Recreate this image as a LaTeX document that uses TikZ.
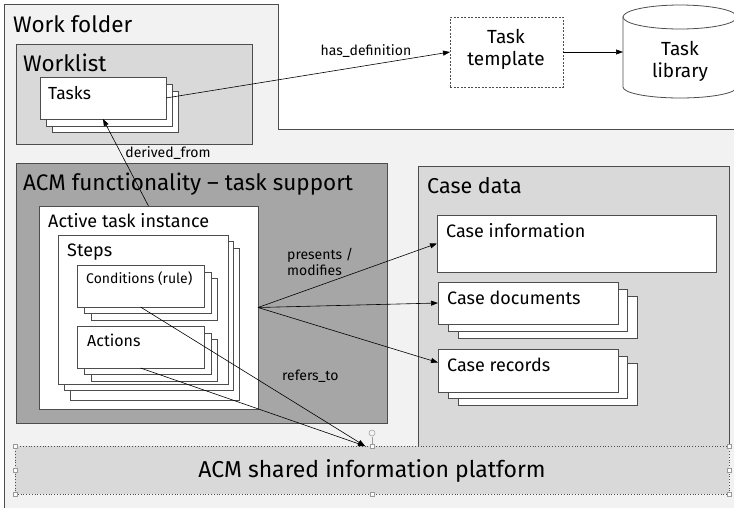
\documentclass[tikz,border=0pt]{standalone}
\usepackage{fontspec}
\setmainfont{Fira Sans}
\usetikzlibrary{arrows.meta}
\definecolor{wf}{HTML}{F2F2F2}
\definecolor{lg}{HTML}{D9D9D9}
\definecolor{dg}{HTML}{A6A6A6}
\definecolor{bd}{HTML}{4D4D4D}
\definecolor{hd}{HTML}{9A9A9A}
\newcommand\fsz[2]{\fontsize{#1}{#2}\selectfont}
\newcommand\mybox[6]{\node[#2, minimum width={(#5)-(#3)}, minimum height={(#6)-(#4)}] (#1) at (#3,#4) {};}
\tikzset{
  box/.style={draw=bd, line width=0.8pt, anchor=north west, inner sep=0pt, outer sep=0pt},
  ttl/.style={anchor=base west, inner sep=0pt, text=black},
  lbl/.style={inner sep=0pt, text=black, font=\fsz{14}{16}},
  conn/.style={draw=black, line width=0.6pt},
  arr/.style={conn, -{Triangle[length=7pt,width=5pt]}},
  handle/.style={draw=hd, fill=white, line width=0.5pt, minimum size=4pt, inner sep=0pt}
}
\begin{document}
\begin{tikzpicture}[x=1pt,y=-1pt]
\clip (0,0) rectangle (734,507);
\fill[white] (0,0) rectangle (734,507);
% Work folder
\draw[bd, fill=wf, line width=0.8pt] (4,4) -- (278,4) -- (278,129) -- (745,129) -- (745,515) -- (4,515) -- cycle;
\node[ttl, font=\fsz{22.5}{26}] (wft) at (13,32) {Work folder};
% Worklist
\mybox{wl}{box, fill=lg}{16}{44}{252}{144}
\node[ttl, font=\fsz{22.5}{26}] (wlt) at (23,71) {Worklist};
\mybox{tasks2}{box, fill=white}{52}{91}{178}{132}
\mybox{tasks1}{box, fill=white}{46}{84}{172}{126}
\mybox{tasks}{box, fill=white}{40}{77}{166}{119}
\node[ttl, font=\fsz{17.5}{20}] (taskst) at (48,99) {Tasks};
% Task template
\mybox{tmpl}{box, fill=white, dash pattern=on 2pt off 1.5pt}{450}{17}{563}{87}
\node[align=center, font=\fsz{19}{22}, inner sep=0pt] (tmplt) at (506,49) {Task\\template};
% Task library cylinder
\draw[bd, fill=white, line width=0.8pt] (623,17) -- (623,87) arc[start angle=180, end angle=0, x radius=57, y radius=11] -- (737,17) -- cycle;
\draw[bd, fill=white, line width=0.8pt] (680,17) ellipse[x radius=57, y radius=12];
\coordinate (libw) at (623,52);
\node[align=center, font=\fsz{19}{22}, inner sep=0pt] (lib) at (680,61) {Task\\library};
% ACM functionality
\mybox{acm}{box, fill=dg}{16}{163}{387}{423}
\node[ttl, font=\fsz{22.5}{26}] (acmt) at (23,190) {ACM functionality – task support};
\mybox{ati}{box, fill=white}{39}{206}{258}{409}
\node[ttl, font=\fsz{18}{20}] (atit) at (48,227) {Active task instance};
\mybox{steps2}{box, fill=white}{70}{248}{239}{400}
\mybox{steps1}{box, fill=white}{64}{241}{233}{390}
\mybox{steps}{box, fill=white}{58}{235}{228}{384}
\node[ttl, font=\fsz{18}{20}] (stepst) at (67,256) {Steps};
\mybox{cond2}{box, fill=white}{91}{278}{217}{320}
\mybox{cond1}{box, fill=white}{84}{272}{211}{313}
\mybox{cond}{box, fill=white}{77}{265}{204}{307}
\node[ttl, font=\fsz{14}{16}] (condt) at (86,283) {Conditions (rule)};
\mybox{act2}{box, fill=white}{91}{339}{217}{381}
\mybox{act1}{box, fill=white}{84}{333}{211}{374}
\mybox{act}{box, fill=white}{77}{326}{204}{368}
\node[ttl, font=\fsz{16}{19}] (actt) at (87,346) {Actions};
% Case data
\mybox{cd}{box, fill=lg}{418}{166}{729}{446}
\node[ttl, font=\fsz{21.5}{24}] (cdt) at (427,193) {Case data};
\mybox{ci}{box, fill=white}{437}{215}{716}{272}
\node[ttl, font=\fsz{18}{20}] (cit) at (446,237) {Case information};
\mybox{cdoc2}{box, fill=white}{458}{296}{637}{338}
\mybox{cdoc1}{box, fill=white}{448}{289}{627}{331}
\mybox{cdoc}{box, fill=white}{438}{282}{618}{324}
\node[ttl, font=\fsz{18}{20}] (cdoct) at (447,304) {Case documents};
\mybox{crec2}{box, fill=white}{458}{363}{637}{405}
\mybox{crec1}{box, fill=white}{448}{356}{627}{398}
\mybox{crec}{box, fill=white}{438}{349}{618}{392}
\node[ttl, font=\fsz{18}{20}] (crect) at (447,371) {Case records};
% Platform
\mybox{plat}{box, draw=bd, dotted, line width=0.6pt, fill=lg}{15}{446}{729}{494}
\node[anchor=base, inner sep=0pt, font=\fsz{23}{26}] (platt) at (372,477) {ACM shared information platform};
\coordinate (rt) at (365,446);
% selection handles
\draw[hd, line width=0.5pt] (372,437) -- (372,446);
\node[draw=hd, circle, minimum size=6pt, inner sep=0pt, line width=0.5pt] (rot) at (372,433) {};
\foreach \hx/\hy [count=\i] in {15/446,372/446,729/446,15/470,729/470,15/494,372/494,729/494}
  \node[handle] (h\i) at (\hx,\hy) {};
% connectors
\draw[arr] (tasks.east) -- (tmpl.west);
\node[lbl] (hdl) at (366,51) {has\_definition};
\draw[arr] (tmpl.east) -- (libw);
\draw[arr] (ati.north) -- (tasks.south);
\node[lbl] (dfl) at (168,153) {derived\_from};
\draw[arr] (ati.east) -- (ci.west);
\draw[arr] (ati.east) -- (cdoc.west);
\draw[arr] (ati.east) -- ([yshift=8pt]crec.west);
\node[lbl, anchor=north west, align=left] (pml) at (287,248) {presents /\\modifies};
\draw[arr] (cond.south) -- (rt);
\draw[arr] (act.south) -- (rt);
\node[lbl, anchor=base west] (rtl) at (282,380) {refers\_to};
\end{tikzpicture}
\end{document}
